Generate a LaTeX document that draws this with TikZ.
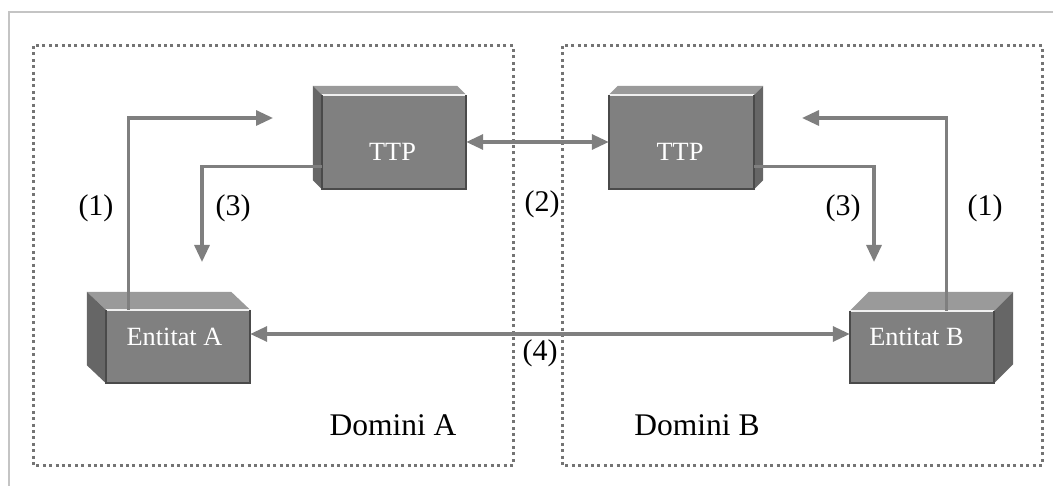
\documentclass[tikz,border=0pt]{standalone}
\usepackage{fontspec}
\setmainfont{Liberation Serif}
\usetikzlibrary{arrows.meta,calc}
\definecolor{facefront}{HTML}{808080}
\definecolor{facetop}{HTML}{9A9A9A}
\definecolor{faceside}{HTML}{666666}
\definecolor{edgedark}{HTML}{4A4A4A}
\definecolor{arrgray}{HTML}{7F7F7F}
\definecolor{dotgray}{HTML}{747474}
\definecolor{framegray}{HTML}{C4C4C4}
\tikzset{
  front/.style={fill=facefront, draw=none, inner sep=0pt, minimum width=#1},
  topface/.style={fill=facetop, draw=none},
  sideface/.style={fill=faceside, draw=none},
  darkedge/.style={draw=edgedark, line width=1.8pt},
  lightedge/.style={draw=white!88!gray, line width=1.6pt},
  boxtext/.style={text=white, font=\fontsize{26.3}{28}\selectfont, inner sep=0pt},
  lbl/.style={text=black, font=\fontsize{30}{32}\selectfont, inner sep=0pt},
  domlbl/.style={text=black, font=\fontsize{31.5}{33}\selectfont, inner sep=0pt},
  arr/.style={draw=arrgray, line width=3.2pt, -{Triangle[length=17pt,width=15pt]}},
  arrtwo/.style={draw=arrgray, line width=3.2pt, {Triangle[length=17pt,width=15pt]}-{Triangle[length=17pt,width=15pt]}},
  dombox/.style={draw=dotgray, line width=3pt, dash pattern=on 3pt off 3.4pt},
  outerframe/.style={draw=framegray, line width=2pt}
}
\begin{document}
\begin{tikzpicture}[x=1pt,y=-1pt]
\useasboundingbox (0,0) rectangle (1053,486);
% outer frame (top and left)
\draw[outerframe] (9,486) -- (9,12) -- (1053,12);
% domain boxes
\draw[dombox] (33,46) rectangle (513,465);
\draw[dombox] (562,46) rectangle (1042,465);

% ---- front faces ----
\node[front=144pt, minimum height=94pt] (ttpA) at (394,142) {};
\node[front=145pt, minimum height=94pt] (ttpB) at (681.5,142) {};
\node[front=144pt, minimum height=73pt] (entA) at (178,346.5) {};
\node[front=144pt, minimum height=72pt] (entB) at (922,347) {};

% ---- TTP A (depth to upper-left) ----
\fill[topface] (ttpA.north west) -- ++(-9,-9) -- ($(ttpA.north east)+(-9,-9)$) -- (ttpA.north east) -- cycle;
\fill[sideface] (ttpA.north west) -- ++(-9,-9) -- ($(ttpA.south west)+(-9,-9)$) -- (ttpA.south west) -- cycle;
\draw[lightedge] (ttpA.north west) -- (ttpA.north east);
\draw[darkedge] (ttpA.north west) -- (ttpA.south west) -- (ttpA.south east) -- (ttpA.north east);
% ---- TTP B (depth to upper-right) ----
\fill[topface] (ttpB.north west) -- ++(9,-9) -- ($(ttpB.north east)+(9,-9)$) -- (ttpB.north east) -- cycle;
\fill[sideface] (ttpB.north east) -- ++(9,-9) -- ($(ttpB.south east)+(9,-9)$) -- (ttpB.south east) -- cycle;
\draw[lightedge] (ttpB.north west) -- (ttpB.north east);
\draw[darkedge] (ttpB.north west) -- (ttpB.south west) -- (ttpB.south east) -- (ttpB.north east);
% ---- Entitat A (depth to upper-left) ----
\fill[topface] (entA.north west) -- ++(-19,-18) -- ($(entA.north east)+(-19,-18)$) -- (entA.north east) -- cycle;
\fill[sideface] (entA.north west) -- ++(-19,-18) -- ($(entA.south west)+(-19,-18)$) -- (entA.south west) -- cycle;
\draw[lightedge] (entA.north west) -- (entA.north east);
\draw[darkedge] (entA.north west) -- (entA.south west) -- (entA.south east) -- (entA.north east);
% ---- Entitat B (depth to upper-right) ----
\fill[topface] (entB.north west) -- ++(19,-19) -- ($(entB.north east)+(19,-19)$) -- (entB.north east) -- cycle;
\fill[sideface] (entB.north east) -- ++(19,-19) -- ($(entB.south east)+(19,-19)$) -- (entB.south east) -- cycle;
\draw[lightedge] (entB.north west) -- (entB.north east);
\draw[darkedge] (entB.north west) -- (entB.south west) -- (entB.south east) -- (entB.north east);

% ---- box texts ----
\node[boxtext] (ttpAt) at (392.5,152) {TTP};
\node[boxtext] (ttpBt) at (680,152) {TTP};
\node[boxtext] (entAt) at (174.5,337) {Entitat A};
\node[boxtext] (entBt) at (916.5,337) {Entitat B};

% ---- free arrow ends ----
\coordinate (c1A) at (273,118);
\coordinate (c3A) at (202,262);
\coordinate (c1B) at (802,118);
\coordinate (c3B) at (874,262);

% ---- connectors ----
\draw[arr] ($(entA.north west)+(23,0)$) |- (c1A);
\draw[arr] ($(ttpA.south west)+(0,-23)$) -| (c3A);
\draw[arr] ($(entB.north west)+(97,0)$) |- (c1B);
\draw[arr] ($(ttpB.south east)+(0,-23)$) -| (c3B);
\draw[arrtwo] (ttpA.east) -- (ttpB.west);
\draw[arrtwo] ($(entA.east)+(0,-12.5)$) -- ($(entB.west)+(0,-13)$);

% ---- labels ----
\node[lbl] (l1A) at (96,208) {(1)};
\node[lbl] (l3A) at (233,208) {(3)};
\node[lbl] (l2) at (542,204) {(2)};
\node[lbl] (l4) at (540,353) {(4)};
\node[lbl] (l3B) at (843,208) {(3)};
\node[lbl] (l1B) at (985,208) {(1)};
\node[domlbl] (domA) at (393,425) {Domini A};
\node[domlbl] (domB) at (697,425) {Domini B};
\end{tikzpicture}
\end{document}
